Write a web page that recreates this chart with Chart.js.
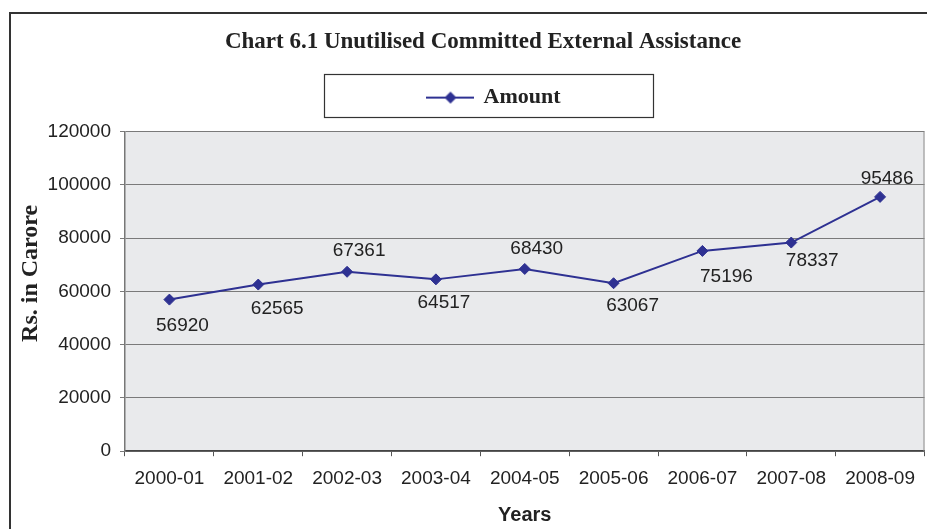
<!DOCTYPE html>
<html>
<head>
<meta charset="utf-8">
<script src="https://cdn.jsdelivr.net/npm/chart.js@4/dist/chart.umd.min.js"></script>
<style>
  html, body { margin: 0; padding: 0; background: #fff; overflow: hidden; }
  /* a few px wider than the window: the original crop cuts the chart's right margin */
  #wrap { width: 931px; height: 529px; position: relative; }
</style>
</head>
<body>
<div id="wrap"><canvas id="chart"></canvas></div>
<script>
const years = ['2000-01', '2001-02', '2002-03', '2003-04', '2004-05', '2005-06', '2006-07', '2007-08', '2008-09'];
const amounts = [56920, 62565, 67361, 64517, 68430, 63067, 75196, 78337, 95486];
const yTicks = [0, 20000, 40000, 60000, 80000, 100000, 120000];

// where each value label sits relative to its point
const labelDx = [13, 19, 12, 8, 12, 19, 24, 21, 7];
const labelDy = [26, 24, -21, 23, -20, 23, 26, 18, -18];

const lineColor = '#2e3192';
const textColor = '#222';
const sans = "'Liberation Sans', Arial, sans-serif";
const serif = "'Liberation Serif', 'Times New Roman', serif";

// legend sample: line with diamond
function legendSample() {
    const c = document.createElement('canvas');
    c.width = 48;
    c.height = 14;
    const g = c.getContext('2d');
    g.strokeStyle = lineColor;
    g.lineWidth = 2;
    g.beginPath();
    g.moveTo(0, 7);
    g.lineTo(48, 7);
    g.stroke();
    g.fillStyle = lineColor;
    g.beginPath();
    g.moveTo(24 - 6, 7);
    g.lineTo(24, 1);
    g.lineTo(24 + 6, 7);
    g.lineTo(24, 13);
    g.closePath();
    g.fill();
    return c;
}
const sample = legendSample();

const framePlugin = {
    id: 'frame',
    beforeLayout(chart) {
        const lg = chart.legend;
        if (lg && !lg._grown) {
            const fit = lg.fit;
            lg.fit = function () {
                fit.call(this);
                this.height += 13;
            };
            lg._grown = true;
        }
    },
    afterLayout(chart) {
        // the original page is wider than the crop, so its centre sits right of ours
        chart.titleBlock.left = 35;
        chart.legend.left = 58;
    },
    beforeDraw(chart) {
        const {ctx, chartArea: a} = chart;
        ctx.save();
        ctx.fillStyle = '#fff';
        ctx.fillRect(0, 0, chart.width, chart.height);
        ctx.strokeStyle = '#333';
        ctx.lineWidth = 2;
        ctx.strokeRect(10, 13, 1000, 1000);
        ctx.fillStyle = '#e9eaec';
        ctx.fillRect(a.left, a.top, a.right - a.left, a.bottom - a.top);
        ctx.restore();
    },
    afterDraw(chart) {
        const {ctx, chartArea: a} = chart;
        ctx.save();
        ctx.strokeStyle = '#8a8a8a';
        ctx.lineWidth = 1;
        ctx.beginPath();
        ctx.moveTo(a.right - 0.5, a.top);
        ctx.lineTo(a.right - 0.5, a.bottom);
        ctx.stroke();
        const hb = chart.legend.legendHitBoxes[0];
        if (hb) {
            const cx = hb.left + hb.width / 2 - 6;
            const cy = hb.top + hb.height / 2 - 2;
            ctx.strokeStyle = '#333';
            ctx.lineWidth = 1.2;
            ctx.strokeRect(Math.round(cx - 164.5) + 0.5, Math.round(cy - 21.5) + 0.5, 329, 43);
        }
        ctx.restore();
    },
    afterDatasetsDraw(chart) {
        const {ctx} = chart;
        const meta = chart.getDatasetMeta(0);
        ctx.save();
        ctx.font = '19px ' + sans;
        ctx.fillStyle = textColor;
        ctx.textAlign = 'center';
        ctx.textBaseline = 'middle';
        meta.data.forEach((pt, i) => {
            ctx.fillText(String(amounts[i]), pt.x + labelDx[i], pt.y + labelDy[i]);
        });
        ctx.restore();
    }
};

new Chart(document.getElementById('chart'), {
    type: 'line',
    data: {
        labels: years,
        datasets: [{
            label: 'Amount',
            data: amounts,
            borderColor: lineColor,
            backgroundColor: lineColor,
            borderWidth: 2,
            pointStyle: 'rectRot',
            pointRadius: 5.5,
            pointBorderWidth: 1,
            pointBackgroundColor: lineColor,
            pointBorderColor: lineColor,
            tension: 0
        }]
    },
    options: {
        responsive: true,
        maintainAspectRatio: false,
        animation: false,
        layout: { padding: 0 },
        plugins: {
            title: {
                display: true,
                text: 'Chart 6.1 Unutilised Committed External Assistance',
                color: textColor,
                font: { family: serif, size: 23, weight: 'bold' },
                padding: { top: 28, bottom: 21 }
            },
            legend: {
                display: true,
                position: 'top',
                labels: {
                    usePointStyle: true,
                    pointStyle: sample,
                    pointStyleWidth: 44,
                    padding: 10,
                    color: textColor,
                    font: { family: serif, size: 22, weight: 'bold' }
                }
            },
            tooltip: { enabled: false }
        },
        scales: {
            x: {
                offset: true,
                grid: {
                    offset: true,
                    drawOnChartArea: false,
                    drawTicks: true,
                    tickLength: 5,
                    color: '#555'
                },
                border: { display: true, color: '#444', width: 1.5 },
                ticks: {
                    color: textColor,
                    padding: 11,
                    maxRotation: 0,
                    font: { family: sans, size: 19 }
                },
                title: {
                    display: true,
                    text: 'Years',
                    color: textColor,
                    font: { family: sans, size: 20, weight: 'bold' },
                    padding: { top: 2, bottom: 2 }
                }
            },
            y: {
                min: 0,
                max: 120000,
                afterFit(scale) { scale.width = 125; },
                afterBuildTicks(scale) { scale.ticks = yTicks.map(v => ({ value: v })); },
                grid: {
                    color: '#7a7a7a',
                    lineWidth: 1,
                    drawTicks: true,
                    tickLength: 5
                },
                border: { display: true, color: '#777', width: 1.5 },
                ticks: {
                    color: textColor,
                    padding: 9,
                    font: { family: sans, size: 19 },
                    callback: v => String(v)
                },
                title: {
                    display: true,
                    // leading spaces lift the label above the axis centre, as in the original
                    text: '      Rs. in Carore',
                    color: textColor,
                    font: { family: serif, size: 24, weight: 'bold' },
                    padding: { top: 16, bottom: 0 }
                }
            }
        }
    },
    plugins: [framePlugin]
});
</script>
</body>
</html>
